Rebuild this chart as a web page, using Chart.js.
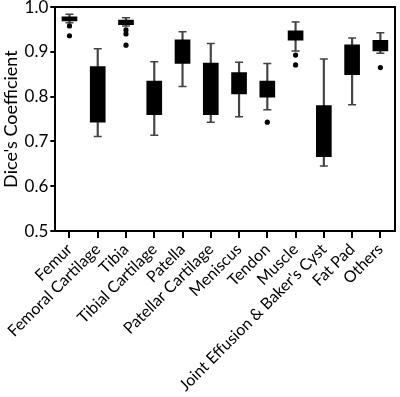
<!DOCTYPE html>
<html><head><meta charset="utf-8">
<script src="https://cdn.jsdelivr.net/npm/chart.js@4"></script>
<style>html,body{margin:0;padding:0;background:#fff}canvas{display:block}</style>
</head><body>
<canvas id="c" width="400" height="397"></canvas>
<script>
const categories = ["Femur","Femoral Cartilage","Tibia","Tibial Cartilage","Patella","Patellar Cartilage","Meniscus","Tendon","Muscle","Joint Effusion & Baker's Cyst","Fat Pad","Others"];
const whiskerLow  = [0.965,0.711,0.958,0.714,0.823,0.743,0.755,0.771,0.902,0.645,0.782,0.897];
const q1          = [0.969,0.743,0.961,0.760,0.874,0.760,0.806,0.799,0.926,0.666,0.849,0.902];
const q3          = [0.978,0.867,0.971,0.835,0.927,0.875,0.854,0.835,0.947,0.780,0.916,0.926];
const whiskerHigh = [0.984,0.907,0.976,0.878,0.945,0.919,0.877,0.874,0.967,0.884,0.931,0.943];
const outliers    = [[0.958,0.936],[],[0.949,0.940,0.915],[],[],[],[],[0.743],[0.893,0.871],[],[],[0.865]];
const yTicks = [0.5,0.6,0.7,0.8,0.9,1.0];

const FONT = "Lato";
const capPts = [];
categories.forEach((c,i)=>{capPts.push({x:c,y:whiskerLow[i]});capPts.push({x:c,y:whiskerHigh[i]});});
const outPts = [];
categories.forEach((c,i)=>outliers[i].forEach(v=>outPts.push({x:c,y:v})));

new Chart(document.getElementById('c'), {
  type: 'bar',
  data: {
    labels: categories,
    datasets: [
      {type:'line', data: outPts, showLine:false, pointStyle:'circle', pointRadius:2.6, pointBackgroundColor:'#000', pointBorderWidth:0, order:0},
      {type:'bar', data: q1.map((v,i)=>[v,q3[i]]), backgroundColor:'#000', barThickness:15, grouped:false, order:1},
      {type:'line', data: capPts, showLine:false, pointStyle:'line', pointRadius:4, borderColor:'#444', pointBorderColor:'#444', pointBorderWidth:1.5, order:2},
      {type:'bar', data: whiskerLow.map((v,i)=>[v,whiskerHigh[i]]), backgroundColor:'#444', barThickness:1.5, grouped:false, order:3}
    ]
  },
  options: {
    responsive:false, animation:false, devicePixelRatio:1,
    layout:{padding:{top:4,right:2,left:0,bottom:0}},
    plugins:{legend:{display:false}, tooltip:{enabled:false}},
    scales:{
      x:{
        offset:true,
        grid:{offset:false, drawOnChartArea:false, drawTicks:true, tickLength:7, color:'#000', lineWidth:2},
        border:{display:true, color:'#000', width:2},
        ticks:{autoSkip:false, maxRotation:45, minRotation:45, color:'#000', padding:3, font:{family:FONT, size:16, lineHeight:1.0}}
      },
      y:{
        min:0.5, max:1.0,
        afterBuildTicks: s => { s.ticks = yTicks.map(v=>({value:v})); },
        grid:{drawOnChartArea:false, drawTicks:true, tickLength:5, color:'#000', lineWidth:2},
        border:{display:true, color:'#000', width:2},
        ticks:{color:'#000', padding:2, font:{family:FONT, size:17, lineHeight:0.6}, callback:v=>Number(v).toFixed(1)},
        title:{display:true, text:"Dice's Coefficient", color:'#000', font:{family:FONT, size:18}, padding:{top:0,bottom:1}}
      },
      x2:{
        type:'category', position:'top', display:true,
        grid:{display:false, drawTicks:false}, ticks:{display:false},
        border:{display:true, color:'#000', width:2}
      },
      y2:{
        type:'linear', position:'right', display:true, min:0.5, max:1.0,
        grid:{display:false, drawTicks:false}, ticks:{display:false},
        border:{display:true, color:'#000', width:2}
      }
    }
  }
});
</script>
</body></html>
